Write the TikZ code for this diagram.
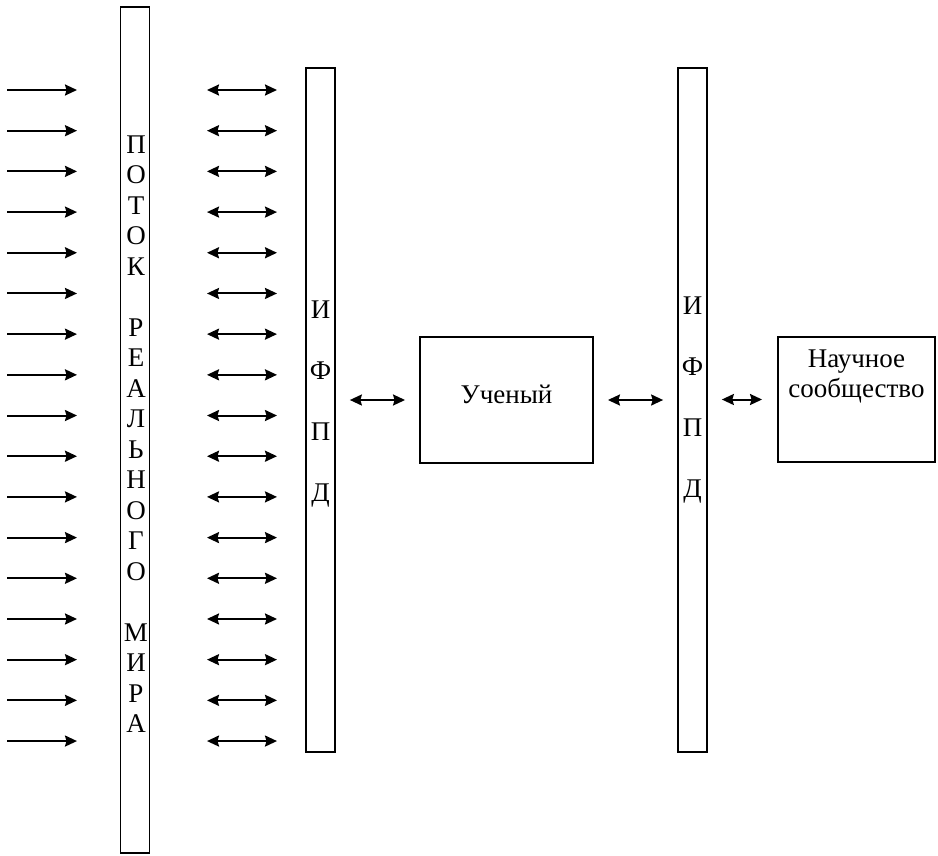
\documentclass[tikz,border=0pt]{standalone}
\usepackage{fontspec}
\setmainfont{Liberation Serif}
\usetikzlibrary{arrows.meta}

\begin{document}
\begin{tikzpicture}[x=1pt,y=-1pt,line width=2pt,>={Stealth[length=12pt,width=11pt,inset=1.5pt]}]
   \useasboundingbox (0,0) rectangle (938,855);
   \fontsize{27}{30.5}\selectfont
   \tikzstyle{bar}=[draw, line width=1.7pt, minimum width=29pt, inner sep=0pt]
   \tikzstyle{box}=[draw, line width=1.9pt, inner sep=0pt]
   \tikzstyle{letter}=[anchor=base, inner sep=0pt]
   \node[bar, minimum height=846pt] (flow) at (135,430) {};
   \node[bar, minimum height=684pt] (ifpd1) at (320.5,410) {};
   \node[bar, minimum height=684pt] (ifpd2) at (692.5,410) {};
   \node[box, minimum width=173pt, minimum height=126pt] (sci) at (506.5,400) {};
   \node[box, minimum width=157pt, minimum height=125pt] (comm) at (856.5,399.5) {};
   \foreach \i/\ch in {0/П,1/О,2/Т,3/О,4/К,6/Р,7/Е,8/А,9/Л,10/Ь,11/Н,12/О,13/Г,14/О,16/М,17/И,18/Р,19/А}
       \node[letter] (f\i) at (136,153+30.5*\i) {\ch};
   \foreach \i/\ch in {0/И,1/Ф,2/П,3/Д} {
       \node[letter] (a\i) at (320.5,318+61*\i) {\ch};
       \node[letter] (b\i) at (692.5,314+61*\i) {\ch};
   }
   \node[letter] (scitext) at (506.5,403) {Ученый};
   \node[letter] (commtext1) at (856.5,367) {Научное};
   \node[letter] (commtext2) at (856.5,397) {сообщество};
   \foreach \i in {0,...,16} {
       \coordinate (s\i) at (7,90+40.69*\i);
       \coordinate (t\i) at (77,90+40.69*\i);
       \coordinate (u\i) at (207,90+40.69*\i);
       \coordinate (v\i) at (277,90+40.69*\i);
       \draw[->] (s\i) -- (t\i);
       \draw[<->] (u\i) -- (v\i);
   }
   \draw[<->, shorten <=14pt, shorten >=14pt] (ifpd1.east |- sci.west) -- (sci.west);
   \draw[<->, shorten <=14pt, shorten >=14pt] (sci.east) -- (ifpd2.west |- sci.east);
   \draw[<->, shorten <=14pt, shorten >=15pt] (ifpd2.east |- comm.west) -- (comm.west);
\end{tikzpicture}
\end{document}
